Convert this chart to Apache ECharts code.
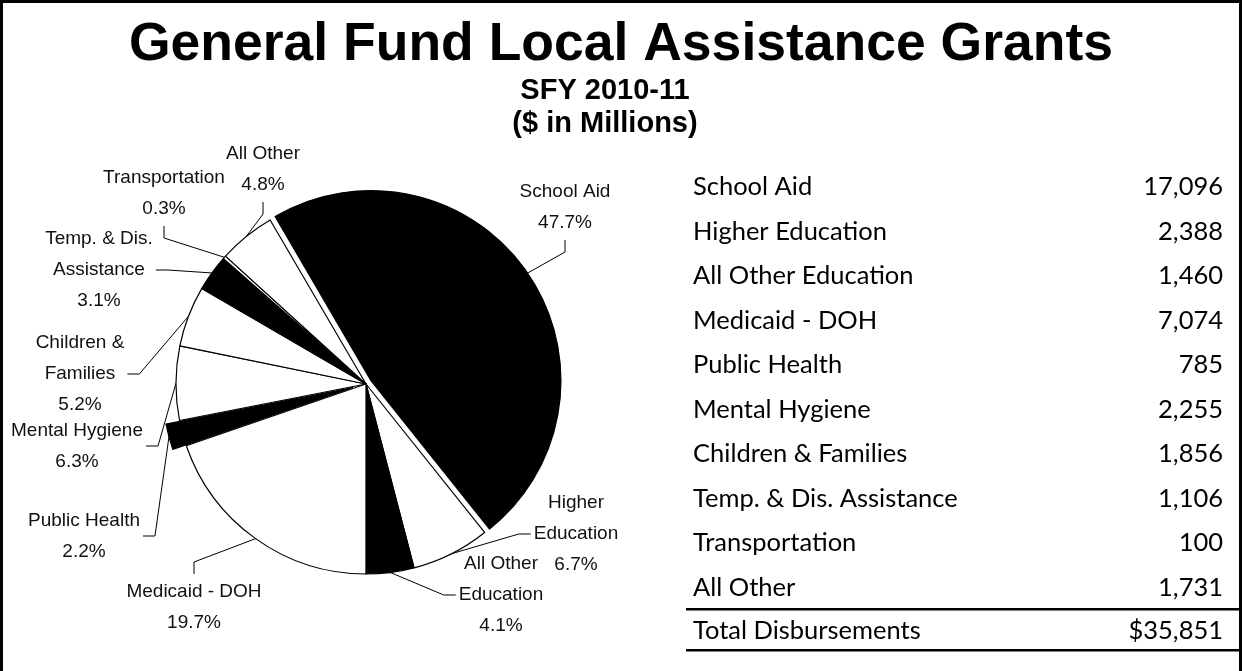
<!DOCTYPE html>
<html>
<head>
<meta charset="utf-8">
<script src="https://cdn.jsdelivr.net/npm/echarts@6/dist/echarts.min.js"></script>
<style>
  html, body { margin: 0; padding: 0; background: #fff; }
  #chart { width: 1242px; height: 671px; }
</style>
</head>
<body>
<div id="chart"></div>
<script>
// ---- data ----
const categories = ['School Aid', 'Higher Education', 'All Other Education', 'Medicaid - DOH',
  'Public Health', 'Mental Hygiene', 'Children & Families', 'Temp. & Dis. Assistance',
  'Transportation', 'All Other'];
const sliceNames = ['School Aid', 'Higher\nEducation', 'All Other\nEducation', 'Medicaid - DOH',
  'Public Health', 'Mental Hygiene', 'Children &\nFamilies', 'Temp. & Dis.\nAssistance',
  'Transportation', 'All Other'];
const values = [17096, 2388, 1460, 7074, 785, 2255, 1856, 1106, 100, 1731];
const totalName = 'Total Disbursements';
const titleText = 'General Fund Local Assistance Grants';
const subtitleText = 'SFY 2010-11\n($ in Millions)';

// ---- styling ----
const sliceFill = ['#000', '#fff', '#000', '#fff', '#000', '#fff', '#fff', '#000', '#fff', '#fff'];
// how far each slice is pulled out of the pie (px)
const pullOut = [6, 0, 0, 0, 14, 0, 0, 0, 0, 0];
// centre of each slice label block
const labelAnchor = [[565, 207], [576, 534], [501, 595], [194, 607], [84, 536],
  [77, 446], [80, 374], [99, 270], [164, 193], [263, 169]];
// which side of the label block its leader line leaves from
const leaderSide = ['bottom', 'left', 'left', 'top', 'right', 'right', 'right', 'right', 'bottom', 'bottom'];

const pieCenter = [366, 384];
const pieRadius = 190;
const startAngle = 120.3;

const total = values.reduce((a, b) => a + b, 0);
const fmt = v => v.toLocaleString('en-US');
const pct = v => (v / total * 100).toFixed(1) + '%';

const labelFont = '"Liberation Sans", Arial, sans-serif';
const tableFont = 'Lato, "Open Sans", sans-serif';

// mid-angle of every slice, used to shift pulled-out slices and aim the leader lines
const midAngles = [];
let acc = 0;
values.forEach(v => {
  const frac = (acc + v / 2) / total;
  midAngles.push((startAngle - frac * 360) * Math.PI / 180);
  acc += v;
});

// one pie layer per distinct pull-out distance; each layer only paints its own slices
const layers = [];
layers.push({ owns: pullOut.map((p, i) => p === 0 ? i : -1).filter(i => i >= 0), center: pieCenter });
pullOut.forEach((off, i) => {
  if (off > 0) {
    layers.push({
      owns: [i],
      center: [pieCenter[0] + Math.cos(midAngles[i]) * off, pieCenter[1] - Math.sin(midAngles[i]) * off]
    });
  }
});

const elbow = 12;
function leaderPoints(i, center, rect) {
  const ax = labelAnchor[i][0], ay = labelAnchor[i][1];
  const w = rect.width, h = rect.height;
  let s;
  let e;
  switch (leaderSide[i]) {
    case 'bottom': s = [ax, ay + h / 2 + 2]; e = [ax, s[1] + elbow]; break;
    case 'top': s = [ax, ay - h / 2 - 2]; e = [ax, s[1] - elbow]; break;
    case 'left': s = [ax - w / 2 - 3, ay]; e = [s[0] - elbow, ay]; break;
    default: s = [ax + w / 2 + 3, ay]; e = [s[0] + elbow, ay];
  }
  const arc = [center[0] + Math.cos(midAngles[i]) * pieRadius, center[1] - Math.sin(midAngles[i]) * pieRadius];
  return [arc, e, s];
}

const pieSeries = layers.map((g, gi) => ({
  type: 'pie',
  center: g.center,
  radius: pieRadius,
  startAngle: startAngle,
  clockwise: true,
  avoidLabelOverlap: false,
  silent: true,
  animation: false,
  emphasis: { disabled: true },
  z: 2 + gi,
  label: {
    show: true,
    color: '#111',
    fontFamily: labelFont,
    fontSize: 19,
    lineHeight: 31,
    align: 'center',
    formatter: p => sliceNames[p.dataIndex] + '\n' + pct(p.value)
  },
  labelLine: { show: true, lineStyle: { color: '#000', width: 1 } },
  labelLayout: p => ({
    x: labelAnchor[p.dataIndex][0],
    y: labelAnchor[p.dataIndex][1],
    align: 'center',
    verticalAlign: 'middle',
    labelLinePoints: leaderPoints(p.dataIndex, g.center, p.labelRect)
  }),
  data: values.map((v, i) => {
    const own = g.owns.indexOf(i) >= 0;
    return {
      name: categories[i],
      value: v,
      itemStyle: own
        ? { color: sliceFill[i], borderColor: '#000', borderWidth: 1.2 }
        : { color: 'rgba(0,0,0,0)', borderWidth: 0 },
      label: { show: own },
      labelLine: { show: own }
    };
  })
}));

// ---- table on the right ----
const tableLeft = 693, tableRight = 1223, rowTop = 187, rowGap = 44.5;
const tableSize = 25.5;
const tableEls = [];
const cell = (text, x, y, align) => ({
  type: 'text',
  style: { text: text, x: x, y: y, align: align, verticalAlign: 'middle', font: tableSize + 'px ' + tableFont, fill: '#000' }
});
categories.forEach((c, i) => {
  const y = rowTop + i * rowGap;
  tableEls.push(cell(c, tableLeft, y, 'left'));
  tableEls.push(cell(fmt(values[i]), tableRight, y, 'right'));
});
const totalY = rowTop + categories.length * rowGap - 1;
tableEls.push(cell(totalName, tableLeft, totalY, 'left'));
tableEls.push(cell('$' + fmt(total), tableRight, totalY, 'right'));
const ruleTop = totalY - rowGap / 2 + 0.5;
const ruleBottom = totalY + rowGap / 2 - 3;
[ruleTop, ruleBottom].forEach(y => tableEls.push({
  type: 'line', shape: { x1: 686, y1: y, x2: 1242, y2: y }, style: { stroke: '#000', lineWidth: 2.5 }
}));

const chart = echarts.init(document.getElementById('chart'), null, { renderer: 'canvas' });
chart.setOption({
  backgroundColor: '#fff',
  animation: false,
  title: [
    {
      text: titleText, left: 'center', top: 18, padding: 0,
      textStyle: { fontFamily: '"Liberation Sans", Arial, sans-serif', fontWeight: 'bold', fontSize: 53.5, lineHeight: 54, color: '#000' }
    },
    {
      text: subtitleText, left: 605, textAlign: 'center', top: 74, padding: 0,
      textStyle: { fontFamily: '"Liberation Sans", Arial, sans-serif', fontWeight: 'bold', fontSize: 29, lineHeight: 33, color: '#000' }
    }
  ],
  graphic: [
    { type: 'rect', shape: { x: 1.5, y: 1.5, width: 1239, height: 720 }, style: { fill: 'none', stroke: '#000', lineWidth: 3 }, silent: true },
    { type: 'group', children: tableEls, silent: true }
  ],
  series: pieSeries
});
</script>
</body>
</html>
